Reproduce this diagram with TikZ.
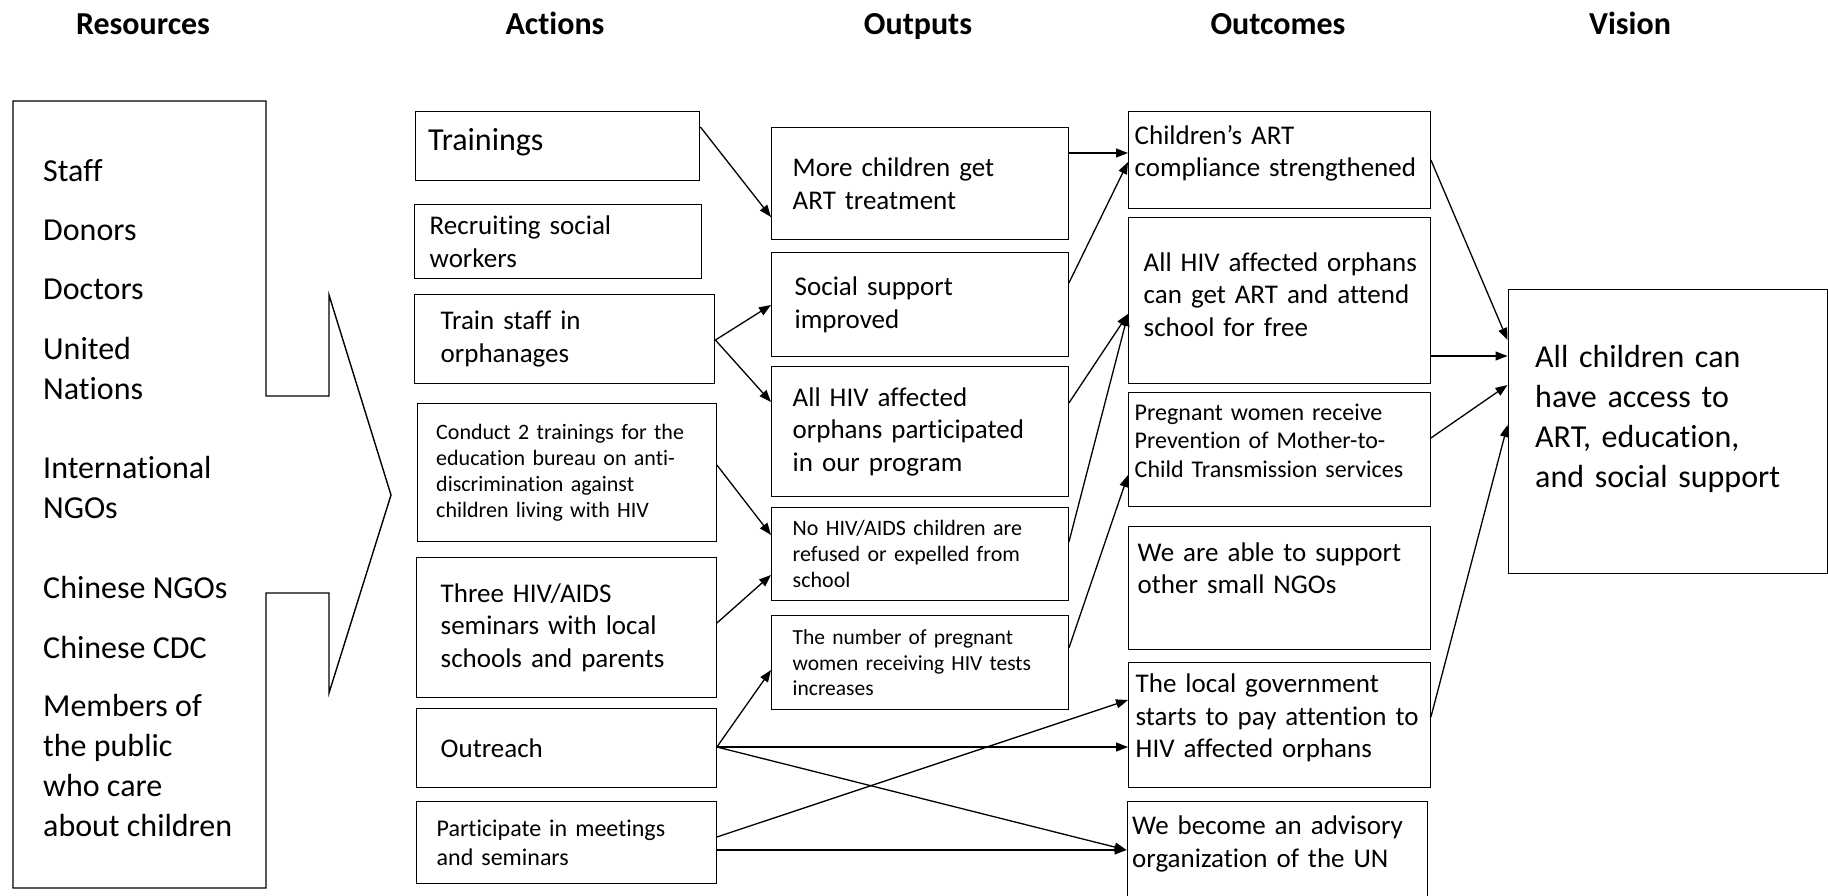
\documentclass[tikz,border=0pt]{standalone}
\usepackage{fontspec}
\setmainfont{Carlito}[Ligatures=NoCommon]
\usetikzlibrary{arrows.meta}

\tikzset{
  cell/.style={draw, line width=1.4pt, align=left, anchor=north west, inner ysep=0pt},
  txtbig/.style={font=\fontsize{32}{40}\selectfont},
  txtmid/.style={font=\fontsize{27}{32.5}\selectfont},
  txtsmall/.style={font=\fontsize{24}{28.5}\selectfont},
  txttiny/.style={font=\fontsize{22}{26}\selectfont},
  lift/.style={execute at end node={\par\vspace*{#1pt}}},
  arr/.style={-{Triangle[length=12pt,width=9pt]}, line width=1.3pt},
  head/.style={font=\bfseries\fontsize{32}{38}\selectfont, anchor=base},
}

\begin{document}
\begin{tikzpicture}[x=1pt, y=-1pt]
\useasboundingbox (0,0) rectangle (1828,896);
\clip (0,0) rectangle (1828,896);

% column titles
\node[head] (hres) at (143,35) {Resources};
\node[head] (hact) at (555,35) {Actions};
\node[head] (hout) at (918,35) {Outputs};
\node[head] (hoc) at (1278,35) {Outcomes};
\node[head] (hvis) at (1630,35) {Vision};

% resources with the big arrow
\draw [line width=1.4pt] (13,101) -- (266,101) -- (266,396) -- (329,396) -- (329,295) -- (391,495) -- (329,693) -- (329,593) -- (266,593) -- (266,888) -- (13,888) -- cycle;
\node[txtbig, align=left, anchor=north west, inner sep=0pt] (res) at (43,159)
  {Staff\\[19pt] Donors\\[19pt] Doctors\\[20pt] United\\ Nations\\[39pt] International\\ NGOs\\[40pt]
   Chinese NGOs\\[20pt] Chinese CDC\\[18pt] Members of\\ the public\\ who care\\ about children};

% actions
\node[cell, txtbig, minimum height=69pt, text width=258.5pt, inner xsep=13pt, lift=8] (trainings) at (414.5,111) {Trainings};
\node[cell, txtmid, minimum height=74pt, text width=256.5pt, inner xsep=15pt] (recruit) at (414,204) {Recruiting social\\ workers};
\node[cell, txtmid, minimum height=89pt, text width=248pt, inner xsep=26pt] (trainstaff) at (414,294) {Train staff in\\ orphanages};
\node[cell, txttiny, minimum height=138pt, text width=261pt, inner xsep=19pt] (conduct) at (416.5,403)
  {Conduct 2 trainings for the\\ education bureau on anti-\\ discrimination against\\ children living with HIV};
\node[cell, txtmid, minimum height=140pt, text width=251.5pt, inner xsep=24pt] (three) at (416,557) {Three HIV/AIDS\\ seminars with local\\ schools and parents};
\node[cell, txtmid, minimum height=79pt, text width=251.5pt, inner xsep=24pt] (outreach) at (416,708) {Outreach};
\node[cell, txtsmall, minimum height=82pt, text width=259.5pt, inner xsep=20pt] (particip) at (416,801) {Participate in meetings\\ and seminars};

% outputs
\node[cell, txtmid, minimum height=112pt, text width=254.5pt, inner xsep=21pt] (more) at (771,127) {More children get\\ ART treatment};
\node[cell, txtmid, minimum height=104pt, text width=250.5pt, inner xsep=23pt] (social) at (771,252) {Social support\\ improved};
\node[cell, txtmid, minimum height=130pt, text width=254.5pt, inner xsep=21pt] (allpart) at (771,366) {All HIV affected\\ orphans participated\\ in our program};
\node[cell, txttiny, minimum height=93pt, text width=254.5pt, inner xsep=21pt] (norefuse) at (771,507) {No HIV/AIDS children are\\ refused or expelled from\\ school};
\node[cell, font=\fontsize{21.5}{25.5}\selectfont, minimum height=94pt, text width=254.5pt, inner xsep=21pt] (pregtest) at (771,615) {The number of pregnant\\ women receiving HIV tests\\ increases};

% outcomes
\node[cell, txtmid, minimum height=97pt, text width=289.5pt, inner xsep=6pt, lift=14] (compliance) at (1128,111) {Children’s ART\\ compliance strengthened};
\node[cell, txtmid, minimum height=166pt, text width=281.5pt, inner xsep=10pt, lift=12] (freeart) at (1128,217) {\hspace*{5pt}All HIV affected orphans\\ \hspace*{5pt}can get ART and attend\\ \hspace*{5pt}school for free};
\node[cell, txtsmall, minimum height=114pt, text width=289.5pt, inner xsep=6pt, lift=18] (pmtct) at (1128,392) {Pregnant women receive\\ Prevention of Mother-to-\\ Child Transmission services};
\node[cell, txtmid, minimum height=123pt, text width=283.5pt, inner xsep=9pt, lift=40] (smallngo) at (1128,526) {We are able to support\\ other small NGOs};
\node[cell, txtmid, minimum height=125pt, text width=287.5pt, inner xsep=7pt, lift=14] (localgov) at (1128,662) {The local government\\ starts to pay attention to\\ HIV affected orphans};
\node[cell, txtmid, minimum height=110pt, text width=290.5pt, inner xsep=5pt, lift=26] (advisory) at (1126.5,801) {We become an advisory\\ organization of the UN};

% vision
\node[cell, txtbig, minimum height=284pt, text width=265pt, inner xsep=27pt, lift=26] (vision) at (1507.5,289) {All children can\\ have access to\\ ART, education,\\ and social support};

% actions -> outputs
\draw[arr] (trainings.east |- 0,127) -- (more.west |- 0,217);
\draw[arr] (trainstaff.east |- 0,340) -- (social.west |- 0,305);
\draw[arr] (trainstaff.east |- 0,340) -- (allpart.west |- 0,402);
\draw[arr] (conduct.east |- 0,465) -- (norefuse.west |- 0,535);
\draw[arr] (three.east |- 0,623) -- (norefuse.west |- 0,575);
\draw[arr] (outreach.east |- 0,747) -- (pregtest.west |- 0,670);

% actions -> outcomes
\draw[arr] (outreach.east |- 0,747) -- (localgov.west |- 0,747);
\draw[arr] (outreach.east |- 0,747) -- (advisory.west |- 0,850);
\draw[arr] (particip.east |- 0,837) -- (localgov.west |- 0,700);
\draw[arr] (particip.east |- 0,850) -- (advisory.west |- 0,850);

% outputs -> outcomes
\draw[arr] (more.east |- 0,153) -- (compliance.west |- 0,153);
\draw[arr] (social.east |- 0,283) -- (compliance.west |- 0,162);
\draw[arr] (allpart.east |- 0,403) -- (freeart.west |- 0,314);
\draw[arr] (norefuse.east |- 0,542) -- (freeart.west |- 0,314);
\draw[arr] (pregtest.east |- 0,648) -- (pmtct.west |- 0,475);

% outcomes -> vision
\draw[arr] (compliance.east |- 0,160) -- (vision.west |- 0,340);
\draw[arr] (freeart.east |- 0,356) -- (vision.west |- 0,356);
\draw[arr] (pmtct.east |- 0,438) -- (vision.west |- 0,385);
\draw[arr] (localgov.east |- 0,717) -- (vision.west |- 0,425);
\end{tikzpicture}
\end{document}
